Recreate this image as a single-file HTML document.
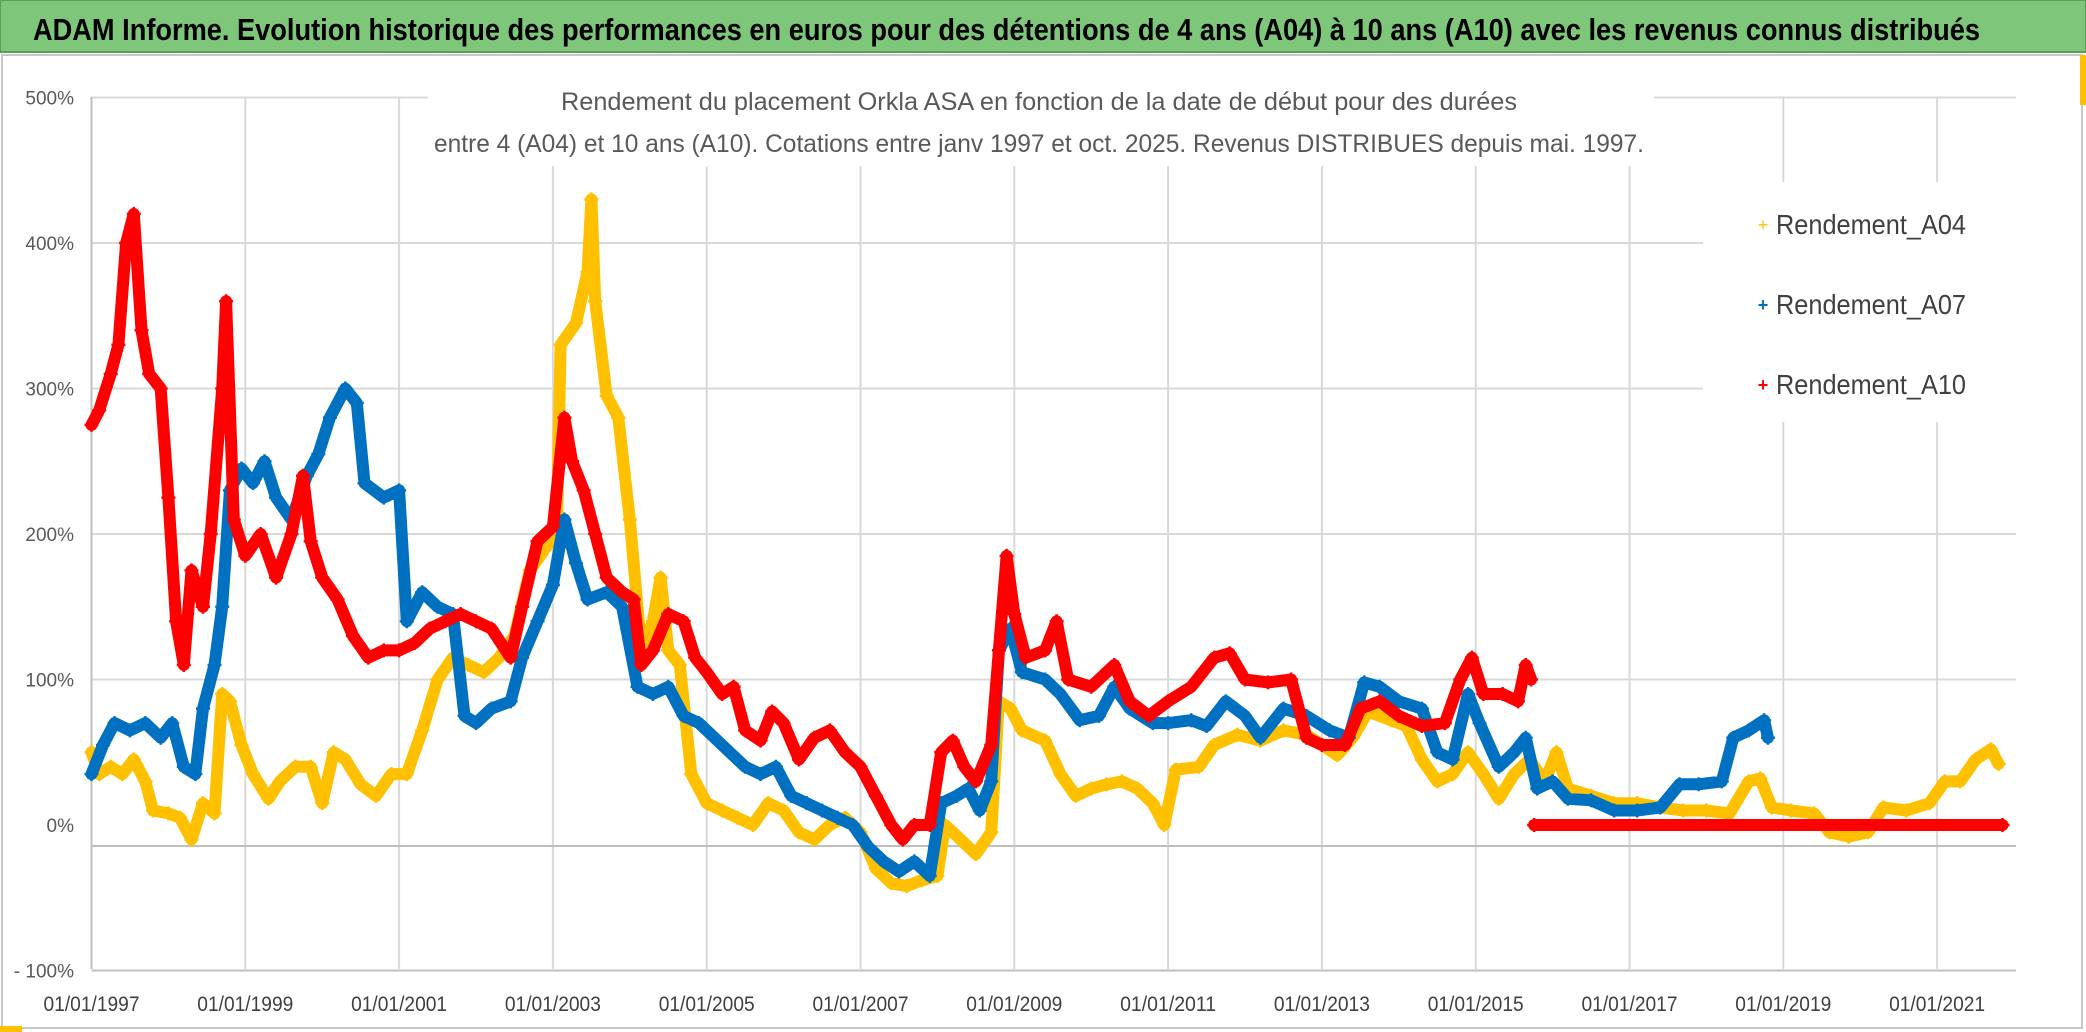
<!DOCTYPE html>
<html><head><meta charset="utf-8"><style>
html,body{margin:0;padding:0;background:#fff;}
svg{display:block;}
text{font-family:"Liberation Sans Narrow","Liberation Sans",sans-serif;}
</style></head><body>
<svg id="chart" width="2086" height="1032" viewBox="0 0 2086 1032" xmlns="http://www.w3.org/2000/svg">
<rect x="0" y="0" width="2086" height="1032" fill="#fff"/>
<rect x="2" y="55" width="2080" height="973" fill="none" stroke="#c8c8c8" stroke-width="2"/>
<rect x="0" y="0" width="2086" height="52" fill="#7DC67A" stroke="#5a9e57" stroke-width="2"/>
<text x="33" y="40" font-size="31" font-weight="bold" fill="#000" textLength="1947" lengthAdjust="spacingAndGlyphs">ADAM Informe. Evolution historique des performances en euros pour des détentions de 4 ans (A04) à 10 ans (A10) avec les revenus connus distribués</text>
<rect x="2080" y="55" width="6" height="50" fill="#FFC000"/>
<rect x="0" y="1026" width="22" height="6" fill="#FFC000"/>
<g id="grid"></g>
<g id="series"></g>
<rect x="428" y="84" width="1226" height="82" fill="#fff"/>
<text x="1039" y="110" font-size="25" fill="#595959" text-anchor="middle" textLength="956" lengthAdjust="spacingAndGlyphs">Rendement du placement Orkla ASA en fonction de la date de début pour des durées</text>
<text x="1039" y="152" font-size="25" fill="#595959" text-anchor="middle" textLength="1210" lengthAdjust="spacingAndGlyphs">entre 4 (A04) et 10 ans (A10). Cotations entre janv 1997 et oct. 2025. Revenus DISTRIBUES depuis mai. 1997.</text>
<g>
<rect x="1703" y="182" width="313" height="240" fill="#fff"/>
<g>
<text x="1763" y="231" font-size="18" fill="#FFC000" text-anchor="middle">+</text>
<text x="1776" y="234" font-size="28" fill="#404040" textLength="190" lengthAdjust="spacingAndGlyphs">Rendement_A04</text></g>
<g>
<text x="1763" y="311" font-size="18" fill="#0070C0" text-anchor="middle" font-weight="bold">+</text>
<text x="1776" y="314" font-size="28" fill="#404040" textLength="190" lengthAdjust="spacingAndGlyphs">Rendement_A07</text></g>
<g>
<text x="1763" y="391" font-size="18" fill="#FF0000" text-anchor="middle" font-weight="bold">+</text>
<text x="1776" y="394" font-size="28" fill="#404040" textLength="190" lengthAdjust="spacingAndGlyphs">Rendement_A10</text></g>
</g>
</svg>
<script>
const yTicks = [500, 400, 300, 200, 100, 0, -100];
const yTickLabels = ["500%", "400%", "300%", "200%", "100%", "0%", "- 100%"];
const xTickYears = [1997, 1999, 2001, 2003, 2005, 2007, 2009, 2011, 2013, 2015, 2017, 2019, 2021];
const xTickLabels = ["01/01/1997","01/01/1999","01/01/2001","01/01/2003","01/01/2005","01/01/2007","01/01/2009","01/01/2011","01/01/2013","01/01/2015","01/01/2017","01/01/2019","01/01/2021"];
const a04Dates = [1997.0,1997.1,1997.25,1997.4,1997.55,1997.7,1997.8,1998.0,1998.15,1998.3,1998.45,1998.6,1998.7,1998.8,1998.95,1999.1,1999.3,1999.45,1999.65,1999.85,2000.0,2000.15,2000.3,2000.5,2000.7,2000.9,2001.1,2001.3,2001.5,2001.7,2001.9,2002.1,2002.3,2002.5,2002.7,2002.9,2003.05,2003.1,2003.3,2003.45,2003.5,2003.55,2003.7,2003.85,2004.0,2004.15,2004.3,2004.4,2004.5,2004.65,2004.8,2005.0,2005.2,2005.4,2005.6,2005.8,2006.0,2006.2,2006.4,2006.6,2006.8,2007.0,2007.2,2007.4,2007.6,2007.8,2008.0,2008.1,2008.3,2008.5,2008.7,2008.8,2008.95,2009.1,2009.4,2009.6,2009.8,2010.0,2010.2,2010.4,2010.6,2010.8,2010.95,2011.1,2011.4,2011.6,2011.9,2012.2,2012.5,2012.8,2013.0,2013.2,2013.4,2013.6,2013.9,2014.1,2014.3,2014.5,2014.7,2014.9,2015.1,2015.3,2015.5,2015.7,2015.9,2016.05,2016.2,2016.5,2016.8,2017.1,2017.4,2017.7,2018.0,2018.3,2018.55,2018.7,2018.85,2019.1,2019.4,2019.6,2019.85,2020.1,2020.3,2020.6,2020.9,2021.1,2021.3,2021.5,2021.7,2021.8];
const a04Values = [50,35,40,35,45,30,10,8,5,-10,15,8,90,85,55,35,18,30,40,40,15,50,45,28,20,35,35,65,100,115,110,105,115,130,175,190,200,330,345,380,430,360,295,280,210,120,140,170,120,110,35,15,10,5,0,15,10,-5,-10,0,5,-5,-30,-40,-42,-38,-35,0,-10,-20,-5,85,80,65,58,35,20,25,28,30,25,15,0,38,40,55,62,58,65,62,55,48,60,78,72,68,45,30,35,50,35,18,35,45,30,50,25,20,15,15,12,10,10,8,30,32,12,10,8,-5,-8,-5,12,10,15,30,30,45,52,42];
const a07Dates = [1997.0,1997.15,1997.3,1997.5,1997.7,1997.9,1998.05,1998.2,1998.35,1998.45,1998.6,1998.7,1998.8,1998.95,1999.1,1999.25,1999.4,1999.6,1999.8,1999.95,2000.1,2000.3,2000.45,2000.55,2000.8,2001.0,2001.1,2001.3,2001.5,2001.7,2001.85,2002.0,2002.2,2002.45,2002.6,2002.8,2003.0,2003.15,2003.3,2003.45,2003.7,2003.9,2004.1,2004.3,2004.5,2004.7,2004.9,2005.1,2005.3,2005.5,2005.7,2005.9,2006.1,2006.3,2006.5,2006.7,2006.9,2007.1,2007.3,2007.5,2007.7,2007.9,2008.05,2008.25,2008.4,2008.55,2008.7,2008.8,2008.95,2009.1,2009.4,2009.6,2009.85,2010.1,2010.3,2010.5,2010.8,2011.0,2011.3,2011.5,2011.75,2012.0,2012.2,2012.5,2012.8,2013.1,2013.35,2013.55,2013.75,2014.0,2014.3,2014.5,2014.7,2014.9,2015.05,2015.3,2015.5,2015.65,2015.8,2016.0,2016.2,2016.5,2016.8,2017.1,2017.4,2017.65,2017.9,2018.2,2018.35,2018.55,2018.75,2018.8];
const a07Values = [35,55,70,65,70,60,70,40,35,80,110,150,230,245,235,250,225,210,240,255,280,300,290,235,225,230,140,160,150,145,75,70,80,85,115,140,165,210,180,155,160,150,95,90,95,75,70,60,50,40,35,40,20,15,10,5,0,-15,-25,-32,-25,-35,15,20,25,10,30,120,135,105,100,90,72,75,95,80,70,70,72,68,85,75,60,80,75,65,60,98,95,85,80,50,45,90,70,40,50,60,25,30,18,17,10,10,12,28,28,30,60,65,72,60];
const a10Dates = [1997.0,1997.1,1997.25,1997.35,1997.45,1997.55,1997.65,1997.75,1997.9,1998.0,1998.1,1998.2,1998.3,1998.45,1998.55,1998.7,1998.75,1998.85,1999.0,1999.2,1999.4,1999.6,1999.75,1999.85,2000.0,2000.2,2000.4,2000.6,2000.8,2001.0,2001.2,2001.4,2001.6,2001.8,2002.0,2002.2,2002.45,2002.6,2002.8,2003.0,2003.15,2003.25,2003.4,2003.55,2003.7,2003.9,2004.05,2004.15,2004.3,2004.5,2004.7,2004.85,2005.0,2005.2,2005.35,2005.5,2005.7,2005.85,2006.0,2006.2,2006.4,2006.6,2006.8,2007.0,2007.2,2007.4,2007.55,2007.7,2007.9,2008.05,2008.2,2008.35,2008.5,2008.7,2008.8,2008.9,2009.0,2009.15,2009.4,2009.55,2009.7,2010.0,2010.3,2010.5,2010.75,2011.0,2011.3,2011.6,2011.8,2012.0,2012.3,2012.6,2012.8,2013.0,2013.3,2013.5,2013.75,2014.0,2014.3,2014.6,2014.8,2014.95,2015.1,2015.35,2015.55,2015.65,2015.72,2015.74,2015.76,2021.85];
const a10Values = [275,285,310,330,400,420,340,310,300,225,140,110,175,150,200,300,360,210,185,200,170,200,240,195,170,155,130,115,120,120,125,135,140,145,140,135,115,150,195,205,280,250,230,200,170,160,155,110,120,145,140,115,105,90,95,65,58,78,70,45,60,65,50,40,20,0,-10,0,0,50,58,40,30,55,120,185,145,115,120,140,100,95,110,85,75,85,95,115,118,100,98,100,60,55,55,80,85,75,68,70,100,115,90,90,85,110,100,null,0,0];

const NS = "http://www.w3.org/2000/svg";
const X0 = 91.5, PX_PER_YEAR = 76.9, Y0 = 825, PX_PER_PCT = 1.455;
function xScale(t){ return X0 + (t - 1997) * PX_PER_YEAR; }
function yScale(v){ return Y0 - v * PX_PER_PCT; }
const PLOT_L = 91.5, PLOT_R = 2016, PLOT_T = 97, PLOT_B = 969;

const grid = document.getElementById('grid');
function mk(tag, attrs, parent){ const e = document.createElementNS(NS, tag); for (const k in attrs) e.setAttribute(k, attrs[k]); parent.appendChild(e); return e; }

xTickYears.forEach((yr, i) => {
  const x = xScale(yr);
  if (i > 0) {
    const l = mk('line', {x1:x, x2:x, y1:PLOT_T, y2:PLOT_B, stroke:'#d9d9d9', 'stroke-width':2}, grid);
    
    
  }
  const t = mk('text', {x:x, y:1011, 'font-size':21, fill:'#404040', 'text-anchor':'middle', textLength:96, lengthAdjust:'spacingAndGlyphs'}, grid);
  t.textContent = xTickLabels[i];
  
  
});
yTicks.forEach((v, i) => {
  let gy = v === 0 ? 846 : yScale(v);
  const l = mk('line', {x1:PLOT_L, x2:PLOT_R, y1:gy, y2:gy, stroke: (v === -100 || v === 0) ? '#bfbfbf' : '#d9d9d9', 'stroke-width':2}, grid);
  
  
  const t = mk('text', {x:74, y:yScale(v) + 7, 'font-size':19, fill:'#595959', 'text-anchor':'end'}, grid);
  t.textContent = yTickLabels[i];
  
  
});
const yAxis = mk('line', {x1:PLOT_L, x2:PLOT_L, y1:PLOT_T, y2:PLOT_B, stroke:'#bfbfbf', 'stroke-width':2}, grid);



const seriesLayer = document.getElementById('series');
function drawSeries(dates, values, color, name){
  const g = mk('g', {}, seriesLayer);
  
  
  let seg = [];
  const flush = () => {
    if (seg.length > 1) {
      const p = mk('polyline', {points: seg.join(' '), fill:'none', stroke:color, 'stroke-width':12, 'stroke-linejoin':'round', 'stroke-linecap':'round'}, g);
      
      
    }
    seg = [];
  };
  dates.forEach((t, i) => {
    const v = values[i];
    if (v === null) { flush(); return; }
    seg.push(xScale(t).toFixed(1) + ',' + yScale(v).toFixed(1));
  });
  flush();
  dates.forEach((t, i) => {
    const v = values[i];
    if (v === null) return;
    const x = xScale(t), y = yScale(v);
    const m = mk('path', {d:`M${x-7},${y}H${x+7}M${x},${y-7}V${y+7}`, stroke:color, 'stroke-width':2.5}, g);
    
    
  });
}
drawSeries(a04Dates, a04Values, '#FFC000', 'series-a04');
drawSeries(a07Dates, a07Values, '#0070C0', 'series-a07');
drawSeries(a10Dates, a10Values, '#FF0000', 'series-a10');
</script>
</body></html>
